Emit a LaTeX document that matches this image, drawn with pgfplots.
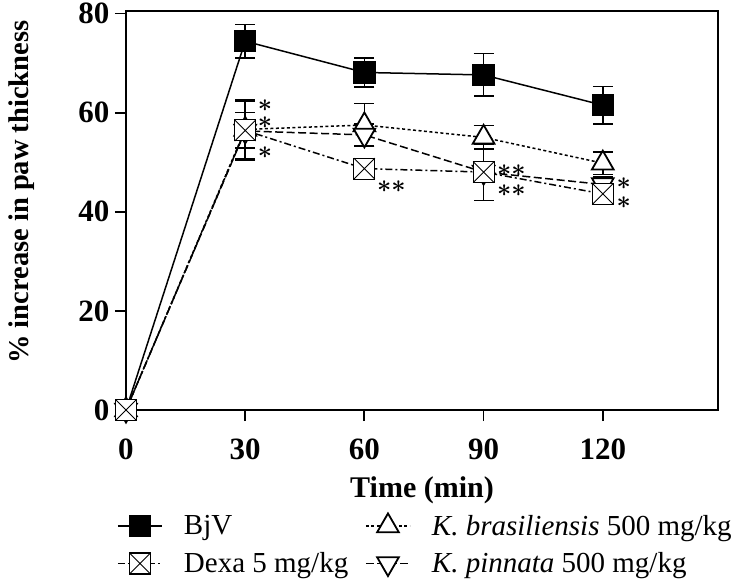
\documentclass[border=0pt]{standalone}
\usepackage{fontspec}
\setmainfont{Liberation Serif}
\usepackage{bm}
\usepackage{pgfplots}
\pgfplotsset{compat=1.18}

% square with a cross inside, for Dexa
\pgfdeclareplotmark{boxx}{%
  \pgfpathrectangle{\pgfqpoint{-\pgfplotmarksize}{-\pgfplotmarksize}}{\pgfqpoint{2\pgfplotmarksize}{2\pgfplotmarksize}}%
  \pgfusepathqfillstroke
  \pgfsetlinewidth{0.9bp}%
  \pgfpathmoveto{\pgfqpoint{-\pgfplotmarksize}{-\pgfplotmarksize}}%
  \pgfpathlineto{\pgfqpoint{\pgfplotmarksize}{\pgfplotmarksize}}%
  \pgfpathmoveto{\pgfqpoint{-\pgfplotmarksize}{\pgfplotmarksize}}%
  \pgfpathlineto{\pgfqpoint{\pgfplotmarksize}{-\pgfplotmarksize}}%
  \pgfusepathqstroke}

% a lowered copy that takes no room, so a stack of stars is one text
\newcommand\low[2]{\llap{\smash{\raisebox{-#1}{#2}}}}

\tikzset{
  bjv/.style={black, line width=1.5bp, mark=square*, mark size=10.5bp, mark options={solid, fill=black, line width=1.5bp}},
  dexa/.style={black, line width=1.5bp, dash pattern=on 7bp off 3bp on 2bp off 3bp, mark=boxx, mark size=10.5bp, mark options={solid, fill=white, line width=1.8bp}},
  kbra/.style={black, line width=1.5bp, dash pattern=on 3bp off 2.5bp, mark=triangle*, mark size=12.5bp, mark options={solid, fill=white, line width=1.8bp}},
  kpin/.style={black, line width=1.5bp, dash pattern=on 8bp off 3.5bp, mark=triangle*, mark size=12.5bp, mark options={solid, fill=white, line width=1.8bp, rotate=180}},
  star/.style={font=\fontsize{36bp}{36bp}\selectfont, inner sep=0pt},
}

\begin{document}
\begin{tikzpicture}
\begin{axis}[
  scale only axis,
  width=592bp, height=399bp,
  xmin=0, xmax=149, ymin=0, ymax=80.5,
  xtick={0,30,60,90,120}, ytick={0,20,40,60,80},
  xtick pos=bottom, ytick pos=left,
  tick align=outside, major tick length=11bp,
  axis line style={line width=1.8bp},
  every tick/.style={black, line width=1.8bp},
  /pgf/number format/assume math mode=true,
  tick label style={font=\fontsize{31bp}{31bp}\selectfont\bfseries},
  xticklabel style={yshift=-14bp},
  yticklabel style={xshift=-2bp},
  xlabel={Time (min)},
  ylabel={\% increase in paw thickness},
  xlabel style={font=\fontsize{30bp}{30bp}\selectfont\bfseries, at={(axis description cs:0.5,-0.2)}, anchor=center},
  ylabel style={font=\fontsize{28.5bp}{28.5bp}\selectfont\bfseries, at={(axis description cs:-0.177,0.546)}, anchor=center},
  clip=false,
  error bars/y dir=both, error bars/y explicit,
  error bars/error mark options={rotate=90, mark size=10bp, line width=1.6bp, solid},
  error bars/error bar style={line width=1.6bp, solid},
  legend columns=2, transpose legend,
  legend cell align=left,
  legend style={at={(axis description cs:-0.0152,-0.258)}, anchor=north west, draw=none, fill=none,
    font=\fontsize{29bp}{32bp}\selectfont, row sep=12bp, inner sep=0pt,
    /tikz/every even column/.append style={column sep=15bp}},
  legend image code/.code={%
    \draw[mark repeat=2, mark phase=2, #1] plot coordinates {(0bp,0bp) (22bp,0bp) (44bp,0bp)};
    \path[draw=none] (0bp,0bp) -- (64bp,0bp);},
]
% K. brasiliensis
\addplot[kbra, forget plot] coordinates {
  (0,0) +- (0,0)
  (30,56.6) +- (0,6.0)
  (60,57.5) +- (0,4.3)
  (90,55.0) +- (0,2.4)
  (120,49.8) +- (0,2.3)
};
% K. pinnata
\addplot[kpin, forget plot] coordinates {
  (0,0) +- (0,0)
  (30,56.3) +- (0,6.0)
  (60,55.5) +- (0,2.2)
  (90,48.0) +- (0,2.0)
  (120,45.5) +- (0,1.5)
};
% BjV
\addplot[bjv, forget plot] coordinates {
  (0,0) +- (0,0)
  (30,74.4) +- (0,3.4)
  (60,68.1) +- (0,2.9)
  (90,67.6) +- (0,4.3)
  (120,61.5) +- (0,3.8)
};
% Dexa 5 mg/kg
\addplot[dexa, forget plot] coordinates {
  (0,0) +- (0,0)
  (30,56.4) +- (0,3.6)
  (60,48.7) +- (0,0.8)
  (90,48.0) +- (0,5.7)
  (120,43.6) +- (0,1.0)
};

\addlegendimage{bjv}
\addlegendentry{BjV}
\addlegendimage{dexa}
\addlegendentry{Dexa 5 mg/kg}
\addlegendimage{kbra}
\addlegendentry{\textit{K. brasiliensis} 500 mg/kg}
\addlegendimage{kpin}
\addlegendentry{\textit{K. pinnata} 500 mg/kg}

% significance marks
\node[star] at (axis cs:35,61.5) {$\bm{\ast}$\low{17.8bp}{$\bm{\ast}$}\low{47bp}{$\bm{\ast}$}};
\node[star] at (axis cs:66.8,45.0) {$\bm{\ast\ast}$};
\node[star] at (axis cs:97.0,48.3) {$\bm{\ast\ast}$\low{20.3bp}{$\bm{\ast\ast}$}};
\node[star] at (axis cs:125.3,45.6) {$\bm{\ast}$\low{18.8bp}{$\bm{\ast}$}};
\end{axis}
\pgfresetboundingbox
\path[use as bounding box] ([shift={(-126bp,-169bp)}]current axis.south west) rectangle ([shift={(608bp,410bp)}]current axis.south west);
\end{tikzpicture}
\end{document}
